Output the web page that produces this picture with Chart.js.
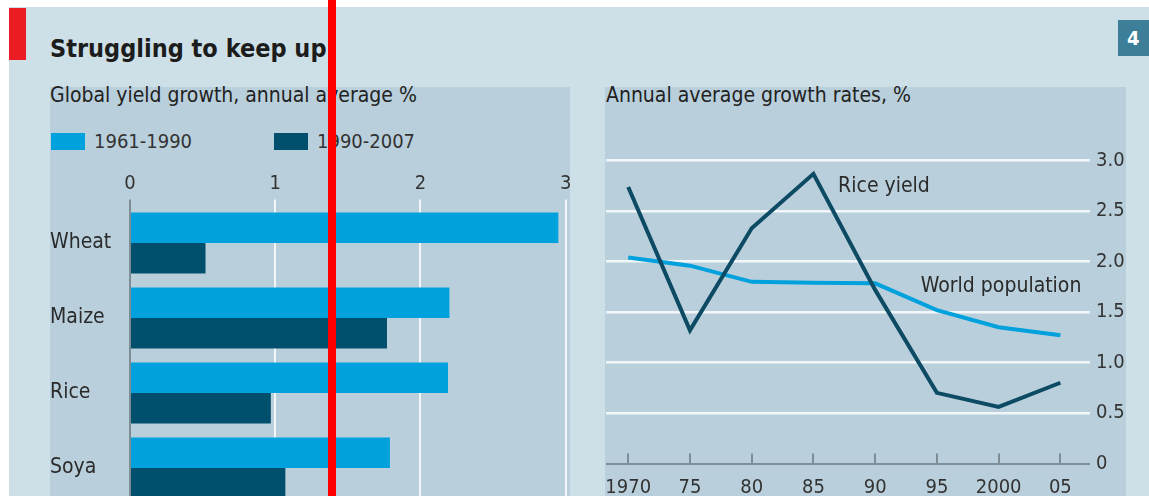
<!DOCTYPE html>
<html>
<head>
<meta charset="utf-8">
<script src="https://cdn.jsdelivr.net/npm/chart.js@4.4.1/dist/chart.umd.min.js"></script>
<style>
  html, body { margin: 0; padding: 0; width: 1149px; height: 496px; overflow: hidden; background: #fff; }
  body { position: relative; font-family: 'DejaVu Sans Condensed', 'DejaVu Sans', sans-serif; }
  .frame { position: absolute; left: 9px; top: 7px; right: 0; bottom: 0; background: #cddfe7; }
  .tag { position: absolute; left: 9px; top: 8px; width: 17px; height: 52px; background: #ec1c24; }
  .num { position: absolute; left: 1118px; top: 20px; width: 31px; height: 36px; background: #3d7e99; color: #fff;
         font-weight: bold; font-size: 20px; line-height: 36px; text-indent: 9px; }
  .title { position: absolute; left: 50px; top: 36px; font-size: 25px; line-height: 25px; font-weight: bold; color: #1c1c1c; white-space: nowrap; }
  .panel { position: absolute; top: 87px; bottom: 0; background: #b9d0dc; }
  .sub { position: absolute; top: 85px; font-size: 21px; line-height: 21px; color: #222; white-space: nowrap; }
  .legend { position: absolute; top: 133px; height: 17px; font-size: 20px; line-height: 17px; color: #333; white-space: nowrap; }
  .legend i { display: inline-block; width: 34px; height: 17px; vertical-align: top; margin-right: 9px; }
  canvas { position: absolute; }
  .redline { position: absolute; left: 328px; top: 0; width: 8px; height: 496px; background: #ff0000; }
</style>
</head>
<body>
<div class="frame"></div>
<div class="tag"></div>
<div class="num">4</div>
<div class="title">Struggling to keep up</div>

<div class="panel" style="left:50px;width:520px"></div>
<div class="panel" style="left:605px;width:521px"></div>

<div class="sub" style="left:50px">Global yield growth, annual average %</div>
<div class="sub" style="left:606px">Annual average growth rates, %</div>

<div class="legend" style="left:51px"><i style="background:#00a1dc"></i>1961-1990</div>
<div class="legend" style="left:274px"><i style="background:#004f6d"></i>1990-2007</div>

<div style="position:absolute;left:50px;top:160px;width:520px;height:370px"><canvas id="bars"></canvas></div>
<div style="position:absolute;left:605px;top:130px;width:521px;height:380px"><canvas id="lines"></canvas></div>

<div class="redline"></div>

<script>
// left chart: yield growth by crop
const crops = ['Wheat', 'Maize', 'Rice', 'Soya'];
const early = [2.95, 2.20, 2.19, 1.79];   // 1961-1990
const late = [0.52, 1.77, 0.97, 1.07];    // 1990-2007
const barTicks = [0, 1, 2, 3];

// right chart: annual average growth rates
const years = [1970, 1975, 1980, 1985, 1990, 1995, 2000, 2005];
const yearLabels = ['1970', '75', '80', '85', '90', '95', '2000', '05'];
const riceYield = [2.74, 1.32, 2.33, 2.87, 1.72, 0.70, 0.56, 0.80];
const worldPop = [2.04, 1.96, 1.80, 1.79, 1.785, 1.52, 1.35, 1.27];

const LIGHT = '#00a1dc';
const DARK = '#004f6d';
const LINE_DARK = '#0d4a63';
const AXIS = '#7d8d96';
const GRID = '#f2f6f8';

Chart.defaults.font.family = "'DejaVu Sans Condensed', 'DejaVu Sans', sans-serif";
Chart.defaults.font.size = 20;
Chart.defaults.color = '#333';
Chart.defaults.animation = false;
Chart.defaults.responsive = true;
Chart.defaults.maintainAspectRatio = false;

new Chart(document.getElementById('bars'), {
  type: 'bar',
  data: {
    labels: crops,
    datasets: [
      { label: '1961-1990', data: early, backgroundColor: LIGHT },
      { label: '1990-2007', data: late, backgroundColor: DARK }
    ]
  },
  options: {
    indexAxis: 'y',
    layout: { padding: { left: 0, right: 4.4, top: 0, bottom: 24.5 } },
    plugins: { legend: { display: false }, tooltip: { enabled: false } },
    datasets: { bar: { categoryPercentage: 0.813, barPercentage: 1 } },
    scales: {
      x: {
        position: 'top',
        min: 0,
        max: 3,
        afterBuildTicks: s => { s.ticks = barTicks.map(v => ({ value: v })); },
        afterFit: s => { s.height = 45.5; s.paddingLeft = 0; s.paddingRight = 0; },
        border: { display: false },
        grid: {
          color: c => (c.tick && c.tick.value === 0 ? AXIS : GRID),
          lineWidth: 2,
          tickLength: 6
        },
        ticks: { padding: 4, color: '#333' }
      },
      y: {
        afterFit: s => { s.width = 80; s.paddingTop = 0; s.paddingBottom = 0; },
        border: { display: false },
        grid: { display: false },
        ticks: { crossAlign: 'far', padding: 0, color: '#2a2a2a', font: { size: 21 } }
      }
    }
  }
});

// small upward tick marks on the time axis and the two line labels
const lineExtras = {
  id: 'lineExtras',
  afterDatasetsDraw(chart) {
    const { ctx, chartArea, scales } = chart;
    ctx.save();
    ctx.strokeStyle = AXIS;
    ctx.lineWidth = 2;
    years.forEach(y => {
      const px = Math.round(scales.x.getPixelForValue(y));
      ctx.beginPath();
      ctx.moveTo(px, chartArea.bottom);
      ctx.lineTo(px, chartArea.bottom - 10);
      ctx.stroke();
    });
    ctx.fillStyle = '#2a2a2a';
    ctx.font = "21px 'DejaVu Sans Condensed', 'DejaVu Sans', sans-serif";
    ctx.textBaseline = 'middle';
    ctx.textAlign = 'left';
    ctx.fillText('Rice yield', scales.x.getPixelForValue(1987), scales.y.getPixelForValue(2.74));
    ctx.fillText('World population', scales.x.getPixelForValue(1993.7), scales.y.getPixelForValue(1.75));
    ctx.restore();
  }
};

new Chart(document.getElementById('lines'), {
  type: 'line',
  data: {
    datasets: [
      {
        label: 'Rice yield',
        data: years.map((y, i) => ({ x: y, y: riceYield[i] })),
        borderColor: LINE_DARK,
        borderWidth: 4,
        pointRadius: 0,
        tension: 0
      },
      {
        label: 'World population',
        data: years.map((y, i) => ({ x: y, y: worldPop[i] })),
        borderColor: LIGHT,
        borderWidth: 4,
        pointRadius: 0,
        tension: 0
      }
    ]
  },
  options: {
    layout: { padding: { left: 1, right: 0, top: 30.7, bottom: 0 } },
    plugins: { legend: { display: false }, tooltip: { enabled: false } },
    scales: {
      x: {
        type: 'linear',
        min: 1968.2,
        max: 2007.4,
        afterBuildTicks: s => { s.ticks = years.map(v => ({ value: v })); },
        afterFit: s => { s.height = 46.5; s.paddingLeft = 0; s.paddingRight = 0; },
        border: { display: false },
        grid: { display: false },
        ticks: {
          padding: 4,
          color: '#333',
          autoSkip: false,
          maxRotation: 0,
          callback: (v) => yearLabels[years.indexOf(v)]
        }
      },
      y: {
        position: 'right',
        min: 0,
        max: 3,
        afterFit: s => { s.width = 36; s.paddingTop = 0; s.paddingBottom = 0; },
        border: { display: false },
        grid: {
          color: c => (c.tick && c.tick.value === 0 ? AXIS : GRID),
          lineWidth: c => (c.tick && c.tick.value === 0 ? 2 : 2.5),
          drawTicks: false
        },
        ticks: {
          stepSize: 0.5,
          padding: 6,
          color: '#333',
          callback: v => (v === 0 ? '0' : v.toFixed(1))
        }
      }
    }
  },
  plugins: [lineExtras]
});
</script>
</body>
</html>
